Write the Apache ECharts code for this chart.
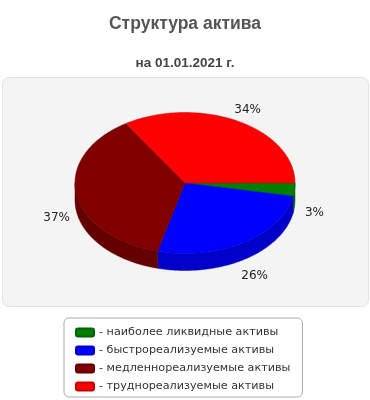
<!DOCTYPE html>
<html><head><meta charset="utf-8">
<script src="https://cdn.jsdelivr.net/npm/echarts@6/dist/echarts.min.js"></script>
<style>html,body{margin:0;padding:0;background:#fff}#c{width:370px;height:400px}</style>
</head><body><div id="c"></div>
<script>
const categories = ['наиболее ликвидные активы','быстрореализуемые активы','медленнореализуемые активы','труднореализуемые активы'];
const values = [3, 26, 37, 34];
const topColors = ['#008000','#0000ff','#800000','#ff0000'];
const sideColors = ['#006400','#0000c8','#640000','#c80000'];

const CX = 185, CY = 183, RX = 110, RY = 70.5, DEPTH = 17;
const total = values.reduce((a,b)=>a+b,0);

function pt(th, dy){ return [CX + RX*Math.cos(th), CY + RY*Math.sin(th) + (dy||0)]; }
function arc(a, b, dy){
  const pts=[]; const n=Math.max(2, Math.ceil((b-a)/(Math.PI/180)));
  for(let k=0;k<=n;k++){ pts.push(pt(a+(b-a)*k/n, dy)); }
  return pts;
}

function renderItem(params, api){
  const i = params.dataIndex;
  let before = 0; for(let k=0;k<i;k++) before += values[k];
  const v = api.value(0);
  const a = before/total*2*Math.PI, b = (before+v)/total*2*Math.PI;
  const children = [];
  const wa = Math.max(a,0), wb = Math.min(b,Math.PI);
  if (wb > wa){
    const top = arc(wa,wb,0), bot = arc(wa,wb,DEPTH).reverse();
    children.push({type:'polygon', shape:{points: top.concat(bot)},
      style:{fill: sideColors[i], stroke: sideColors[i], lineWidth:0.5}});
  }
  children.push({type:'polygon', shape:{points: [[CX,CY]].concat(arc(a,b,0))},
    style:{fill: topColors[i], stroke: sideColors[i], lineWidth:0.5}});
  const m = (a+b)/2, s = Math.sin(m);
  const lx = CX + 130*Math.cos(m), ly = CY + 84*s + (s>0?22:0);
  children.push({type:'text', style:{x:lx, y:ly, text: Math.round(v/total*100)+'%',
    fill:'#222', font:'12px "DejaVu Sans"', align:'center', verticalAlign:'middle'}});
  return {type:'group', children};
}

const chart = echarts.init(document.getElementById('c'), null, {renderer:'canvas'});
chart.setOption({
  animation:false,
  title:[
    {text:'Структура актива', left:'center', top:10,
     textStyle:{fontFamily:'Liberation Sans', fontSize:17.5, fontWeight:'bold', color:'#555'}},
    {text:'на 01.01.2021 г.', left:'center', top:51,
     textStyle:{fontFamily:'Liberation Sans', fontSize:13.5, fontWeight:'bold', color:'#444'}}
  ],
  graphic:[{type:'rect', left:2, top:77, z:-10, shape:{width:366, height:229, r:6},
    style:{fill:'#f4f4f4', stroke:'#e2e2e2', lineWidth:1}}],
  legend:{
    orient:'vertical', left:64, top:318, itemWidth:18, itemHeight:8, itemGap:7,
    icon:'roundRect', padding:[9,12,5,11], borderColor:'#aaa', borderWidth:1, borderRadius:5,
    backgroundColor:'#fff', selectedMode:false,
    formatter: n => '- ' + n,
    textStyle:{fontFamily:'DejaVu Sans', fontSize:11.2, color:'#333'},
    data: categories
  },
  series:[
    {type:'pie', radius:[0,0], center:[-100,-100], silent:true, label:{show:false}, labelLine:{show:false},
     data: categories.map((n,i)=>({name:n, value:values[i], itemStyle:{color:topColors[i], borderColor:sideColors[i], borderWidth:1}}))},
    {type:'custom', coordinateSystem:'none', silent:true, renderItem,
     data: values.map(v=>[v])}
  ]
});
</script></body></html>
